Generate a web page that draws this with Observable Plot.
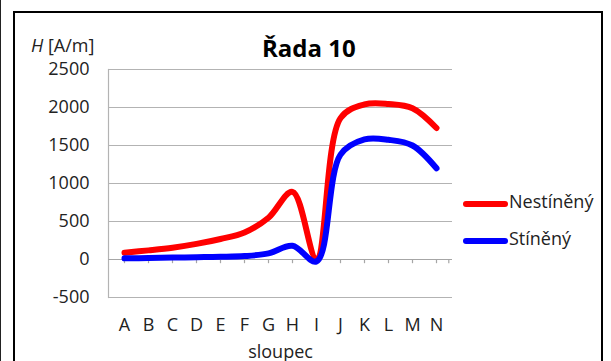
<!DOCTYPE html>
<html>
<head>
<meta charset="utf-8">
<script src="https://cdn.jsdelivr.net/npm/d3@7"></script>
<script src="https://cdn.jsdelivr.net/npm/@observablehq/plot@0.6"></script>
<style>
  html, body { margin: 0; padding: 0; background: #fff; }
  body { font-family: "Open Sans", sans-serif; }
  #wrap { position: relative; width: 611px; height: 361px; overflow: hidden; }
  #chart { position: absolute; left: 0; top: 0; }
  .abs { position: absolute; white-space: nowrap; line-height: 1; }
  #frame { position: absolute; left: 13px; top: 11px; width: 590px; height: 420px; border: 2px solid #000; box-sizing: border-box; }
  #edge { position: absolute; left: 0; top: 0; width: 1px; height: 361px; background: #222; }
  #title { font-size: 24px; font-weight: bold; color: #000; }
  .lg { font-size: 18px; color: #222; }
  .sw { position: absolute; height: 6px; border-radius: 3px; width: 45px; }
</style>
</head>
<body>
<div id="wrap">
  <div id="edge"></div>
  <div id="frame"></div>
  <div id="chart"></div>
  <div id="title" class="abs"></div>
  <div id="ylab" class="abs lg"></div>
  <div id="legend"></div>
</div>
<script>
const categories = ["A","B","C","D","E","F","G","H","I","J","K","L","M","N"];
const seriesNames = ["Nestíněný", "Stíněný"];
const seriesColors = ["#ff0000", "#0000ff"];
const nestineny = [90, 120, 155, 205, 270, 355, 550, 890, 10, 1860, 2040, 2045, 1990, 1730];
const stineny   = [15, 20, 25, 30, 35, 45, 80, 180, -25, 1380, 1580, 1575, 1500, 1200];
const yTicks = [-500, 0, 500, 1000, 1500, 2000, 2500];
const titleText = "Řada 10";
const xLabel = "sloupec";
const yLabelUnit = " [A/m]";
const yLabelVar = "H";

const data = [];
[nestineny, stineny].forEach((vals, s) => {
  vals.forEach((v, i) => data.push({series: seriesNames[s], cat: categories[i], value: v}));
});

const W = 611, H = 361;
const plot = Plot.plot({
  width: W,
  height: H,
  marginLeft: 108,
  marginRight: 159,
  marginTop: 69,
  marginBottom: 64,
  style: {fontFamily: "'Open Sans', sans-serif", fontSize: "18px", color: "#222", background: "transparent"},
  x: {type: "point", domain: categories, padding: 0.5},
  y: {domain: [-500, 2500]},
  color: {domain: seriesNames, range: seriesColors},
  marks: [
    Plot.gridY(yTicks, {stroke: "#b3b3b3", strokeOpacity: 1, strokeWidth: 1.2}),
    Plot.frame({anchor: "left", stroke: "#b3b3b3", strokeWidth: 1.2}),
    Plot.ruleY([0], {stroke: "#a6a6a6", strokeWidth: 1.2}),
    Plot.ruleX(categories, {x: d => d, y1: 0, y2: -55, stroke: "#a6a6a6", strokeWidth: 1.2}),
    Plot.ruleX([categories[categories.length - 1]], {x: d => d, y1: 0, y2: -55, dx: 12.3, stroke: "#a6a6a6", strokeWidth: 1.2}),
    Plot.axisY(yTicks, {tickSize: 0, tickPadding: 19, label: null, fontSize: 18, tickFormat: d => String(d)}),
    Plot.axisX({tickSize: 0, tickPadding: 21, label: null, fontSize: 18}),
    Plot.line(data, {x: "cat", y: "value", stroke: "series", z: "series", strokeWidth: 6,
      curve: "catmull-rom", strokeLinecap: "round", strokeLinejoin: "round"}),
    Plot.text([xLabel], {frameAnchor: "bottom", dy: 60, fontSize: 18, fill: "#222", textAnchor: "middle", x: null})
  ]
});
document.getElementById("chart").appendChild(plot);

const title = document.getElementById("title");
title.textContent = titleText;
title.style.left = "262px";
title.style.top = "36px";

const ylab = document.getElementById("ylab");
const iv = document.createElement("i"); iv.textContent = yLabelVar;
ylab.appendChild(iv);
ylab.appendChild(document.createTextNode(yLabelUnit));
ylab.style.left = "31px";
ylab.style.top = "36px";

const legend = document.getElementById("legend");
const legTops = [204, 241];
seriesNames.forEach((name, i) => {
  const sw = document.createElement("div");
  sw.className = "sw";
  sw.style.background = seriesColors[i];
  sw.style.left = "463px";
  sw.style.top = (legTops[i] - 3) + "px";
  legend.appendChild(sw);
  const t = document.createElement("div");
  t.className = "abs lg";
  t.textContent = name;
  t.style.left = "509px";
  t.style.top = (legTops[i] - 12) + "px";
  legend.appendChild(t);
});
</script>
</body>
</html>
